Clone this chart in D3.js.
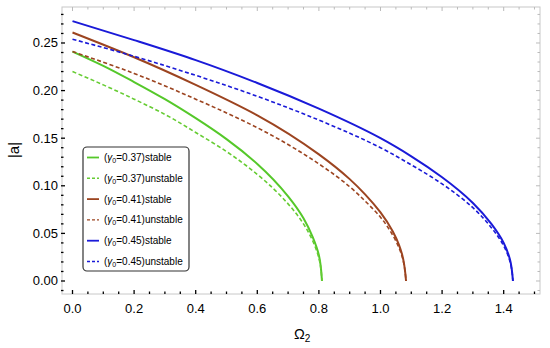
<!DOCTYPE html>
<html>
<head>
<meta charset="utf-8">
<script src="https://cdn.jsdelivr.net/npm/d3@7"></script>
<style>
  body { margin: 0; background: #fff; }
  text { font-family: "Liberation Sans", Arial, sans-serif; }
</style>
</head>
<body>
<div id="container"></div>
<script>
//---------- DATA ----------//
// values (|a| vs Omega_2)
const omGreen = [0, 0.1, 0.2, 0.3, 0.4, 0.5, 0.6, 0.7, 0.75, 0.78, 0.8, 0.81];
const aGreenStable   = [0.241, 0.226, 0.209, 0.191, 0.171, 0.149, 0.123, 0.089, 0.066, 0.046, 0.027, 0];
const aGreenUnstable = [0.220, 0.206, 0.191, 0.175, 0.156, 0.136, 0.112, 0.081, 0.060, 0.042, 0.024, 0];

const omBrown = [0, 0.2, 0.4, 0.6, 0.8, 0.9, 0.95, 1.0, 1.04, 1.06, 1.07, 1.083];
const aBrownStable   = [0.261, 0.235, 0.206, 0.174, 0.133, 0.107, 0.091, 0.072, 0.052, 0.038, 0.028, 0];
const aBrownUnstable = [0.241, 0.218, 0.191, 0.161, 0.123, 0.099, 0.084, 0.067, 0.048, 0.035, 0.026, 0];

const omBlue = [0, 0.2, 0.4, 0.6, 0.8, 1.0, 1.1, 1.2, 1.3, 1.36, 1.4, 1.42, 1.43];
const aBlueStable   = [0.273, 0.253, 0.232, 0.208, 0.181, 0.150, 0.131, 0.109, 0.082, 0.060, 0.040, 0.023, 0];
const aBlueUnstable = [0.254, 0.236, 0.216, 0.194, 0.169, 0.140, 0.122, 0.102, 0.077, 0.056, 0.037, 0.021, 0];

const legendLabels = ["0.37", "0.41", "0.45"];
const xTicks = [0, 0.2, 0.4, 0.6, 0.8, 1.0, 1.2, 1.4];
const yTicks = [0, 0.05, 0.10, 0.15, 0.20, 0.25];

const series = [
    {om: omGreen, a: aGreenStable,   color: "#55c82a", dash: null,  label: legendLabels[0], kind: "stable"},
    {om: omGreen, a: aGreenUnstable, color: "#66cc33", dash: "4,2.5", label: legendLabels[0], kind: "unstable"},
    {om: omBrown, a: aBrownStable,   color: "#9c4420", dash: null,  label: legendLabels[1], kind: "stable"},
    {om: omBrown, a: aBrownUnstable, color: "#9c4420", dash: "4,2.5", label: legendLabels[1], kind: "unstable"},
    {om: omBlue,  a: aBlueStable,    color: "#1a1ad8", dash: null,  label: legendLabels[2], kind: "stable"},
    {om: omBlue,  a: aBlueUnstable,  color: "#1a1ad8", dash: "4,2.5", label: legendLabels[2], kind: "unstable"}
];

//---------- SVG ----------//
const width = 550, height = 348;
const pLeft = 62, pRight = 540, pTop = 7, pBottom = 294;

const svg = d3.select("#container").append("svg")
    .attr("width", width)
    .attr("height", height);

//---------- SCALES ----------//
const xScale = d3.scaleLinear().domain([-0.0341, 1.5179]).range([pLeft, pRight]);
const yScale = d3.scaleLinear().domain([-0.01366, 0.2878]).range([pBottom, pTop]);

//---------- FRAME ----------//
svg.append("rect")
    .attr("x", pLeft).attr("y", pTop)
    .attr("width", pRight - pLeft).attr("height", pBottom - pTop)
    .attr("fill", "none")
    .attr("stroke", "#c8c8c8")
    .attr("stroke-width", 1);

// minor / major ticks
const xMinor = d3.range(0, 1.51, 0.05);
const yMinor = d3.range(-0.01, 0.285, 0.01);
const isMajorX = v => Math.abs(v / 0.2 - Math.round(v / 0.2)) < 1e-6;
const isMajorY = v => Math.abs(v / 0.05 - Math.round(v / 0.05)) < 1e-6;

const ticks = svg.append("g");
xMinor.forEach(v => {
    const x = xScale(v), len = isMajorX(v) ? 4 : 2.5;
    ticks.append("line").attr("x1", x).attr("x2", x)
        .attr("y1", pBottom).attr("y2", pBottom - len)
        .attr("stroke", "#000").attr("stroke-width", 1.3);
    ticks.append("line").attr("x1", x).attr("x2", x)
        .attr("y1", pTop).attr("y2", pTop + len)
        .attr("stroke", "#bbb").attr("stroke-width", 1);
});
yMinor.forEach(v => {
    const y = yScale(v), len = isMajorY(v) ? 4 : 2.5;
    ticks.append("line").attr("x1", pLeft - 1).attr("x2", pLeft + len - 1)
        .attr("y1", y).attr("y2", y)
        .attr("stroke", "#000").attr("stroke-width", 1.3);
    ticks.append("line").attr("x1", pRight).attr("x2", pRight - len)
        .attr("y1", y).attr("y2", y)
        .attr("stroke", "#bbb").attr("stroke-width", 1);
});

// tick labels
svg.append("g").selectAll("text")
    .data(xTicks).join("text")
    .attr("x", d => xScale(d))
    .attr("y", 313)
    .attr("text-anchor", "middle")
    .attr("font-size", "13px")
    .text(d => d.toFixed(1));

svg.append("g").selectAll("text")
    .data(yTicks).join("text")
    .attr("x", pLeft - 4)
    .attr("y", d => yScale(d) + 4.5)
    .attr("text-anchor", "end")
    .attr("font-size", "13px")
    .text(d => d.toFixed(2));

// axis titles
const xt = svg.append("text")
    .attr("x", 294).attr("y", 339)
    .attr("font-size", "14.5px");
xt.append("tspan").text("\u03A9");
xt.append("tspan").attr("font-size", "10px").attr("dy", 3).text("2");

svg.append("text")
    .attr("transform", "translate(19,150) rotate(-90)")
    .attr("text-anchor", "middle")
    .attr("font-size", "15px")
    .text("|a|");

//---------- LINES ----------//
// a falls monotonically, so interpolate along the vertical to get the steep ends
const line = d3.line()
    .x(d => xScale(d[0]))
    .y(d => yScale(d[1]))
    .curve(d3.curveMonotoneY);

svg.append("g").selectAll("path")
    .data(series).join("path")
    .attr("d", s => line(s.om.map((o, i) => [o, s.a[i]])))
    .attr("fill", "none")
    .attr("stroke", s => s.color)
    .attr("stroke-width", s => s.dash ? 1.6 : 2)
    .attr("stroke-dasharray", s => s.dash);

//---------- LEGEND ----------//
const legend = svg.append("g");
legend.append("rect")
    .attr("x", 83).attr("y", 147)
    .attr("width", 106).attr("height", 124)
    .attr("rx", 4)
    .attr("fill", "#fff")
    .attr("stroke", "#333")
    .attr("stroke-width", 1.2);

series.forEach((s, i) => {
    const y = 157.5 + i * 20.8;
    legend.append("line")
        .attr("x1", 87).attr("x2", 99)
        .attr("y1", y).attr("y2", y)
        .attr("stroke", s.color)
        .attr("stroke-width", s.dash ? 1.4 : 1.8)
        .attr("stroke-dasharray", s.dash ? "3,2" : null);
    const t = legend.append("text")
        .attr("x", 104).attr("y", y + 3.5)
        .attr("font-size", "10px");
    t.append("tspan").text("(");
    t.append("tspan").attr("font-style", "italic").text("\u03B3");
    t.append("tspan").attr("font-size", "7px").attr("dy", 2).text("0");
    t.append("tspan").attr("dy", -2).text("=" + s.label + ")" + s.kind);
});
</script>
</body>
</html>
